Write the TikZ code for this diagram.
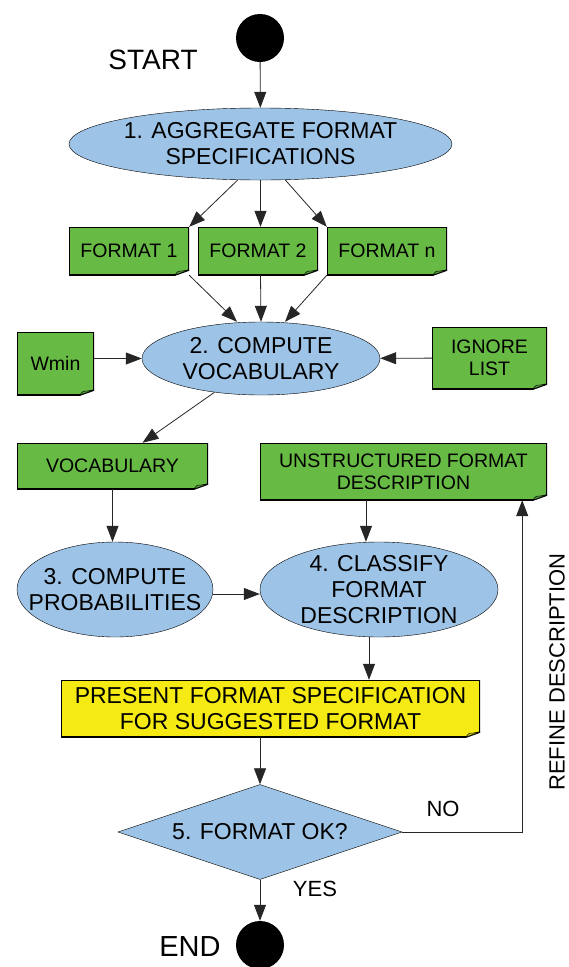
\documentclass[tikz,border=0pt]{standalone}
\usepackage{fontspec}
\setmainfont{Liberation Sans}
\usetikzlibrary{shapes.geometric,arrows.meta}

\definecolor{procblue}{RGB}{157,195,230}
\definecolor{notegreen}{RGB}{103,187,69}
\definecolor{noteyellow}{RGB}{245,234,20}

\tikzset{
  proc/.style={ellipse, draw, fill=procblue, inner sep=0pt},
  proctext/.style={align=center, font=\fontsize{23}{26}\selectfont},
  decision/.style={diamond, draw, fill=procblue, inner sep=0pt},
  terminal/.style={circle, fill=black, minimum size=48, inner sep=0pt},
  note/.style={rectangle, fill=#1, inner sep=0pt, align=center,
    font=\fontsize{19.5}{22}\selectfont,
    path picture={
      \fill[white] ([yshift=5pt]path picture bounding box.south east) -- ([xshift=-14pt]path picture bounding box.south east) -- (path picture bounding box.south east) -- cycle;
      \draw[black, line width=1.6pt] (path picture bounding box.north west) -- (path picture bounding box.north east) -- ([yshift=5pt]path picture bounding box.south east) -- ([xshift=-14pt]path picture bounding box.south east) -- (path picture bounding box.south west) -- cycle;
      \filldraw[fill=#1!85!black, draw=black, line width=0.5pt] ([xshift=-14pt]path picture bounding box.south east) .. controls ([xshift=-11pt,yshift=4pt]path picture bounding box.south east) .. ([xshift=-7pt,yshift=4pt]path picture bounding box.south east) -- ([yshift=5pt]path picture bounding box.south east) -- cycle;
    }},
  note/.default=notegreen,
  flow/.style={-{Triangle[length=16pt,width=12pt]}, black!85, line width=0.8pt},
  lbl/.style={font=\fontsize{22}{26}\selectfont},
}

\begin{document}
\begin{tikzpicture}[x=1pt, y=-1pt]
\useasboundingbox (0,0) rectangle (568,967);

% start and first step
\node[terminal] (start) at (260,38) {};
\node[lbl, font=\fontsize{28}{32}\selectfont] (startlbl) at (153,60) {START};
\node[proc, minimum width=383, minimum height=72,
  label={[proctext]center:{1. AGGREGATE FORMAT\\SPECIFICATIONS}}] (agg) at (260.5,144) {};

% formats
\node[note, minimum width=120, minimum height=48] (fmt1) at (129,251) {FORMAT 1};
\node[note, minimum width=120, minimum height=48] (fmt2) at (258,251) {FORMAT 2};
\node[note, minimum width=120, minimum height=48] (fmtn) at (387,251) {FORMAT n};

% vocabulary
\node[proc, minimum width=238, minimum height=73,
  label={[proctext]center:{2. COMPUTE\\VOCABULARY}}] (vocab) at (261,358.5) {};
\node[note, minimum width=77, minimum height=63] (wmin) at (55.5,363.5) {Wmin};
\node[note, minimum width=115, minimum height=62] (ignore) at (489.5,358) {IGNORE\\LIST};
\node[note, minimum width=191, minimum height=46] (voclist) at (112.5,466) {VOCABULARY};
\node[note, minimum width=287, minimum height=57] (unstr) at (403.5,471.5) {UNSTRUCTURED FORMAT\\DESCRIPTION};

% classification
\node[proc, minimum width=196, minimum height=95,
  label={[proctext]center:{3. COMPUTE\\PROBABILITIES}}] (prob) at (115,589.5) {};
\node[proc, minimum width=238, minimum height=95,
  label={[proctext]center:{4. CLASSIFY\\FORMAT\\DESCRIPTION}}] (classify) at (379,589.5) {};
\node[note=noteyellow, minimum width=419, minimum height=57,
  font=\fontsize{23}{26}\selectfont] (present) at (270.5,708.5) {PRESENT FORMAT SPECIFICATION\\FOR SUGGESTED FORMAT};

% check and end
\node[decision, minimum width=284, minimum height=95,
  label={[proctext]center:{5. FORMAT OK?}}] (ok) at (260,832) {};
\node[terminal] (end) at (260,945) {};
\node[lbl, font=\fontsize{29}{33}\selectfont] (endlbl) at (190,947) {END};
\node[lbl] (nolbl) at (443,809) {NO};
\node[lbl] (yeslbl) at (315,889) {YES};
\node[lbl, rotate=90] (refinelbl) at (557,672) {REFINE DESCRIPTION};

% connectors
\draw[flow] (start) -- (agg);
\draw[flow] ([xshift=-23pt]agg.south) -- (fmt1.north east);
\draw[flow] (agg) -- (agg.south |- fmt2.north);
\draw[flow] ([xshift=25pt]agg.south) -- (fmtn.north west);
\draw[flow] (fmt1.south east) -- ([xshift=-24pt]vocab.north);
\draw[flow] (agg.south |- fmt2.south) -- (vocab.north);
\draw[flow] (fmtn.south west) -- ([xshift=24pt]vocab.north);
\draw[flow] (wmin.east |- vocab.west) -- (vocab.west);
\draw[flow] (ignore) -- (vocab);
\draw[flow] (vocab.-144) -- ([xshift=30pt]voclist.north);
\draw[flow] (voclist) -- (voclist.south |- prob.north);
\draw[flow] ([yshift=-4.5pt]prob.east) -- ([yshift=-4.5pt]prob.east -| classify.west);
\draw[flow] ([xshift=-13pt]classify.north |- unstr.south) -- ([xshift=-13pt]classify.north);
\draw[flow] ([xshift=-10pt]classify.south) -- ([xshift=-10pt]classify.south |- present.north);
\draw[flow] (ok.north |- present.south) -- (ok.north);
\draw[flow] (ok.south) -- (end);
\draw[flow] (ok.east) -| ([xshift=-25pt]unstr.south east);
\end{tikzpicture}
\end{document}
